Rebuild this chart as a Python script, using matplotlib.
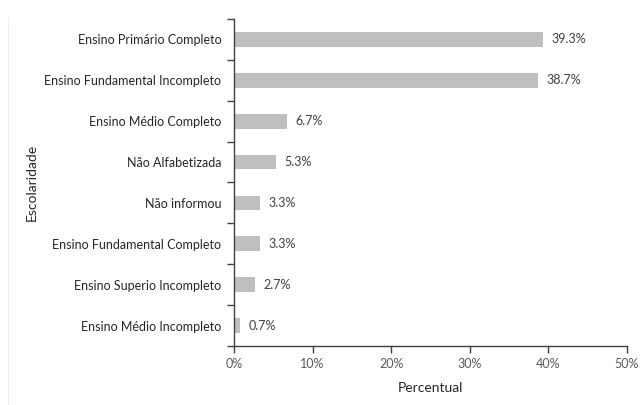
import matplotlib
matplotlib.use("Agg")
import matplotlib.pyplot as plt
from matplotlib.ticker import FixedLocator, PercentFormatter
import numpy as np

plt.rcParams['font.family'] = ['Lato', 'DejaVu Sans']

categories = ["Ensino Primário Completo", "Ensino Fundamental Incompleto",
              "Ensino Médio Completo", "Não Alfabetizada", "Não informou",
              "Ensino Fundamental Completo", "Ensino Superio Incompleto",
              "Ensino Médio Incompleto"]
values = [39.3, 38.7, 6.7, 5.3, 3.3, 3.3, 2.7, 0.7]
labels = ["39.3%", "38.7%", "6.7%", "5.3%", "3.3%", "3.3%", "2.7%", "0.7%"]
xticks = [0, 10, 20, 30, 40, 50]

fig = plt.figure(figsize=(6.4, 4.05), dpi=100)
ax = fig.add_axes([234/640, 1-346/405, (627-234)/640, (346-19)/405])

n = len(categories)
y = np.arange(n)[::-1]
ax.barh(y, values, height=0.36, color="#bfbfbf")
for yi, v, lab in zip(y, values, labels):
    ax.text(v + 1.1, yi, lab, va="center", ha="left", fontsize=9, color="#404040")

ax.set_ylim(-0.5, n - 0.5)
ax.set_xlim(0, 50)
ax.set_yticks(y)
ax.set_yticklabels(categories, fontsize=9, color="#262626")
ax.tick_params(axis="y", which="major", length=0, pad=9)
ax.yaxis.set_minor_locator(FixedLocator(np.arange(-0.5, n, 1.0)))
ax.tick_params(axis="y", which="minor", length=5, width=1, color="#404040", direction="out")

ax.set_xticks(xticks)
ax.xaxis.set_major_formatter(PercentFormatter(decimals=0))
ax.tick_params(axis="x", length=5, width=1, color="#404040", labelsize=9,
               labelcolor="#595959", pad=4)

for s in ["top", "right"]:
    ax.spines[s].set_visible(False)
for s in ["left", "bottom"]:
    ax.spines[s].set_color("#404040")
    ax.spines[s].set_linewidth(1)

ax.set_xlabel("Percentual", fontsize=10, color="#262626", labelpad=8)
ax.set_ylabel("Escolaridade", fontsize=10, color="#262626", labelpad=0)
ax.yaxis.set_label_coords(-0.50, 0.5)

fig.add_artist(plt.Line2D([8/640, 8/640], [0, 1-17/405], transform=fig.transFigure,
                          color="#eeeeee", lw=0.8))

fig.savefig("out.png", dpi=100)
